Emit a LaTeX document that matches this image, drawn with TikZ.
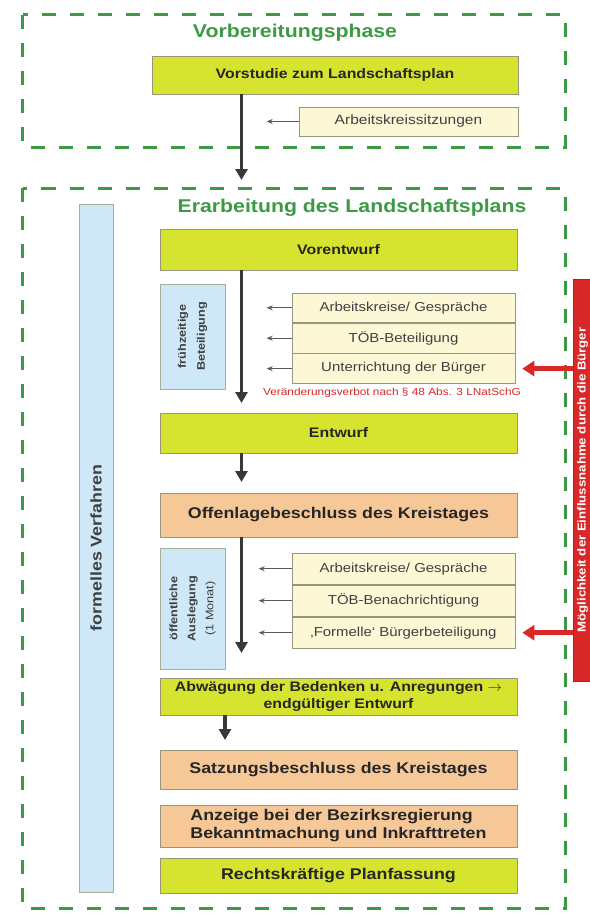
\documentclass[tikz,border=0pt]{standalone}
\usepackage{fontspec}
\setmainfont{Liberation Sans}[FakeStretch=1.15]
\usepackage{tikz}
\usetikzlibrary{arrows.meta,positioning}
\definecolor{phasegreen}{RGB}{60,154,68}
\definecolor{planlime}{RGB}{214,228,48}
\definecolor{planorange}{RGB}{246,200,152}
\definecolor{plancream}{RGB}{252,247,212}
\definecolor{planblue}{RGB}{206,232,248}
\definecolor{planred}{RGB}{216,40,40}
\definecolor{planframe}{RGB}{150,150,125}
\definecolor{arrowgray}{RGB}{55,55,60}

\begin{document}
\begin{tikzpicture}[
    x=1pt, y=-1pt,
    phase/.style={draw=phasegreen, line width=3pt, dash pattern=on 14pt off 14pt},
    phasetitle/.style={text=phasegreen, font=\fontsize{18.5}{20}\selectfont\bfseries},
    stepbox/.style={rectangle, draw=planframe, line width=0.8pt, fill=planlime, minimum width=357pt, align=center, inner sep=1pt, text=black!85},
    limebox/.style={stepbox, font=\fontsize{13.8}{17}\selectfont\bfseries},
    orangebox/.style={stepbox, fill=planorange, font=\fontsize{15.5}{18}\selectfont\bfseries},
    finalbox/.style={stepbox, font=\fontsize{15.5}{18}\selectfont\bfseries},
    inputbox/.style={rectangle, draw=planframe, line width=0.7pt, fill=plancream, minimum width=223pt, inner sep=1pt, text=black!75, font=\fontsize{13}{15}\selectfont},
    sidebox/.style={rectangle, draw=planframe!80, line width=0.7pt, fill=planblue, rotate=90, align=center, inner sep=1pt, text=black!75},
    mainarrow/.style={draw=arrowgray, line width=3.5pt, -{Triangle[length=11pt,width=12pt]}},
    smallarrow/.style={draw=black!65, line width=1.1pt, -{Stealth[length=6pt,width=5pt]}},
    redarrow/.style={draw=planred, line width=4.5pt, -{Triangle[length=12pt,width=15pt]}}
]
\useasboundingbox (0,0) rectangle (589,915);

% Vorbereitungsphase
\draw[phase] (22.5,15) rectangle (565,147);
\node[phasetitle] (title1) at (295,33) {Vorbereitungsphase};
\node[limebox, minimum width=366pt, minimum height=38pt] (vorstudie) at (335,75) {Vorstudie zum Landschaftsplan};
\node[inputbox, minimum width=219pt, minimum height=29pt, font=\fontsize{13.5}{15}\selectfont] (sitzung) at (408.5,121.5) {Arbeitskreissitzungen};
\draw[smallarrow] (sitzung.west) -- ++(-32,0);
\coordinate (tip1) at (241.5,180);
\draw[mainarrow] (tip1 |- vorstudie.south) -- (tip1);

% Erarbeitung
\draw[phase] (22.5,188) rectangle (565,908);
\node[phasetitle] (title2) at (352,208) {Erarbeitung des Landschaftsplans};
\node[sidebox, minimum width=688pt, minimum height=34pt, font=\fontsize{15.5}{18}\selectfont\bfseries] (formell) at (96,548) {formelles Verfahren};

\node[limebox, minimum height=41pt] (vorentwurf) at (338.5,249.5) {Vorentwurf};
\node[sidebox, minimum width=105pt, minimum height=65pt, font=\fontsize{11}{19}\selectfont\bfseries] (frueh) at (192.5,336.5) {frühzeitige\\Beteiligung};
\node[inputbox, minimum height=29.7pt] (ak1) at (403.5,307.8) {Arbeitskreise/ Gespräche};
\node[inputbox, minimum height=29.7pt, below=0pt of ak1] (tob1) {TÖB-Beteiligung};
\node[inputbox, minimum height=29.7pt, below=0pt of tob1] (ub1) {Unterrichtung der Bürger};
\foreach \n in {ak1,tob1,ub1}
  \draw[smallarrow] (\n.west) -- ++(-25,0);
\node[text=planred, font=\fontsize{10.3}{12}\selectfont] (verbot) at (392,393) {Veränderungsverbot nach § 48 Abs. 3 LNatSchG};
\coordinate (tip2) at (241.5,403);
\draw[mainarrow] (tip2 |- vorentwurf.south) -- (tip2);

\node[limebox, minimum height=40pt] (entwurf) at (338.5,433) {Entwurf};
\coordinate (tip3) at (241.5,482);
\draw[mainarrow] (tip3 |- entwurf.south) -- (tip3);

\node[orangebox, minimum height=44pt] (offenlage) at (338.5,515) {Offenlagebeschluss des Kreistages};
\node[sidebox, minimum width=121pt, minimum height=65pt, font=\fontsize{11}{18}\selectfont] (auslegung) at (192.5,608.5) {\textbf{öffentliche}\\\textbf{Auslegung}\\(1 Monat)};
\node[inputbox, minimum height=31.3pt] (ak2) at (403.5,568.7) {Arbeitskreise/ Gespräche};
\node[inputbox, minimum height=31.3pt, below=0pt of ak2] (tob2) {TÖB-Benachrichtigung};
\node[inputbox, minimum height=31.3pt, below=0pt of tob2] (ub2) {‚Formelle‘ Bürgerbeteiligung};
\foreach \n in {ak2,tob2,ub2}
  \draw[smallarrow] (\n.west) -- ++(-33,0);
\coordinate (tip4) at (241.5,653);
\draw[mainarrow] (tip4 |- offenlage.south) -- (tip4);

\node[limebox, minimum height=37pt] (abwaegung) at (338.5,696.5) {Abwägung der Bedenken u. Anregungen $\rightarrow$\\endgültiger Entwurf};
\coordinate (tip5) at (225,740);
\draw[mainarrow] (tip5 |- abwaegung.south) -- (tip5);

\node[orangebox, minimum height=39pt] (satzung) at (338.5,769.5) {Satzungsbeschluss des Kreistages};
\node[orangebox, minimum height=42pt, align=left] (anzeige) at (338.5,826) {Anzeige bei der Bezirksregierung\\Bekanntmachung und Inkrafttreten};
\node[finalbox, minimum height=35pt] (rechts) at (338.5,875.5) {Rechtskräftige Planfassung};

% Einflussnahme der Buerger
\node[rectangle, fill=planred, draw=planred!80!black, minimum width=37pt, minimum height=402pt] (buerger) at (591.5,480) {};
\node[text=white, rotate=90, anchor=base, font=\fontsize{11.5}{13}\selectfont\bfseries] (buergertext) at (585.5,480) {Möglichkeit der Einflussnahme durch die Bürger};
\draw[redarrow] (ub1.east -| buerger.west) -- ([xshift=7pt]ub1.east);
\draw[redarrow] (ub2.east -| buerger.west) -- ([xshift=7pt]ub2.east);

\end{tikzpicture}
\end{document}
